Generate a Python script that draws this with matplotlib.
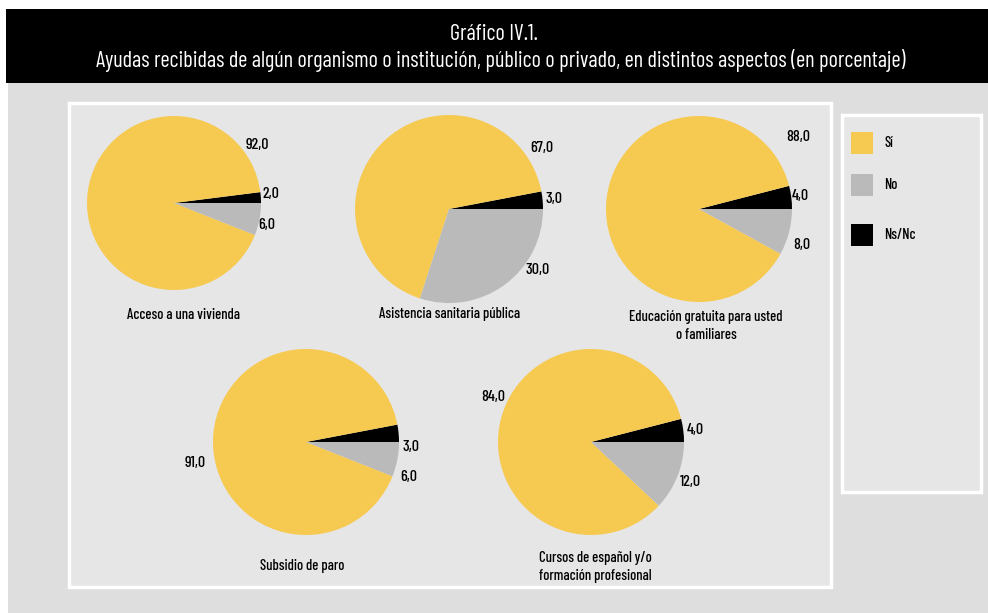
import matplotlib
matplotlib.use("Agg")
import matplotlib.pyplot as plt
from matplotlib.patches import Rectangle

plt.rcParams['font.family'] = ['Barlow Condensed', 'Archivo Narrow', 'DejaVu Sans']
plt.rcParams['font.weight'] = 'medium'

# data (order drawn counterclockwise from 3 o'clock: Ns/Nc, Sí, No)
categories = ["Acceso a una vivienda", "Asistencia sanitaria pública",
              "Educación gratuita para usted\no familiares", "Subsidio de paro",
              "Cursos de español y/o\nformación profesional"]
si = [92.0, 67.0, 88.0, 91.0, 84.0]
no = [6.0, 30.0, 8.0, 6.0, 12.0]
nsnc = [2.0, 3.0, 4.0, 3.0, 4.0]
legend_labels = ["Sí", "No", "Ns/Nc"]

yellow, grey, black = "#f6c951", "#bababa", "#000000"

# layout in pixels (x from left, y from top)
W, H = 988, 613
centers = [(174, 203, 87), (449, 209, 94), (699, 209, 93), (306, 442, 93), (591, 442, 93)]
si_pos = [(257, 145), (542, 148), (798, 137), (195, 463), (493, 397)]
nsnc_pos = [(271, 194), (554, 199), (800, 196), (411, 447), (695, 430)]
no_pos = [(267, 225), (538, 270), (802, 245), (409, 477), (690, 482)]
cat_pos = [(183, 315), (450, 314), (706, 326), (302, 566), (595, 567)]

fig = plt.figure(figsize=(W / 100, H / 100), dpi=100)
ax = fig.add_axes([0, 0, 1, 1])


def fy(y):
    return H - y


def fmt(v):
    return f"{v:.1f}".replace(".", ",")


# backgrounds
ax.add_patch(Rectangle((8, 0), W - 8, fy(83), facecolor="#dedede", edgecolor="none"))
ax.add_patch(Rectangle((6, fy(83)), W - 6, 74, facecolor="black", edgecolor="none"))
ax.add_patch(Rectangle((69, fy(587)), 762, 484, facecolor="#e6e6e6", edgecolor="white", lw=2.5))
ax.add_patch(Rectangle((842, fy(492)), 139, 377, facecolor="#e6e6e6", edgecolor="white", lw=2.5))

ax.text(494, fy(35), "Gráfico IV.1.", color="white", fontsize=16, fontweight="normal",
        ha="center", va="center")
ax.text(501, fy(61), "Ayudas recibidas de algún organismo o institución, público o privado, "
        "en distintos aspectos (en porcentaje)", color="white", fontsize=16,
        fontweight="normal", ha="center", va="center")

for i in range(len(categories)):
    cx, cy, r = centers[i]
    ax.pie([nsnc[i], si[i], no[i]], colors=[black, yellow, grey], startangle=0,
           counterclock=True, center=(cx, fy(cy)), radius=r,
           wedgeprops=dict(linewidth=0))
    ax.text(si_pos[i][0], fy(si_pos[i][1]), fmt(si[i]), fontsize=11.5, ha="center", va="center")
    ax.text(nsnc_pos[i][0], fy(nsnc_pos[i][1]), fmt(nsnc[i]), fontsize=11.5, ha="center", va="center")
    ax.text(no_pos[i][0], fy(no_pos[i][1]), fmt(no[i]), fontsize=11.5, ha="center", va="center")
    ax.text(cat_pos[i][0], fy(cat_pos[i][1]), categories[i], fontsize=10.5, ha="center",
            va="center", linespacing=1.3)

# legend
for lab, col, y in zip(legend_labels, [yellow, grey, black], [143, 185, 235]):
    ax.add_patch(Rectangle((851, fy(y + 11)), 22, 22, facecolor=col, edgecolor="none"))
    ax.text(884, fy(y), lab, fontsize=10.5, ha="left", va="center")

ax.set_xlim(0, W)
ax.set_ylim(0, H)
ax.set_aspect("auto")
ax.axis("off")

fig.savefig("out.png", dpi=100, facecolor="white")
